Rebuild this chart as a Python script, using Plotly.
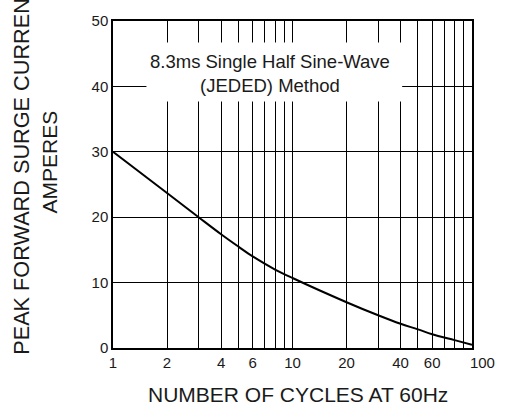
import plotly.graph_objects as go

# Data
cycles = [1, 2, 3, 4, 5, 6, 8, 10, 20, 30, 40, 50, 60, 80, 100]
surge_current = [30.0, 23.7, 20.0, 17.4, 15.5, 14.0, 12.0, 10.7, 7.0, 5.0, 3.7, 2.85, 2.1, 1.2, 0.5]

x_tick_vals = [1, 2, 3, 4, 5, 6, 7, 8, 9, 10, 20, 30, 40, 50, 60, 70, 80, 90, 100]
x_tick_text = ["1", "2", "", "4", "", "6", "", "", "", "10", "20", "", "40", "", "60", "", "", "",
               "\u00a0\u00a0\u00a0\u00a0\u00a0100"]
y_tick_vals = [0, 10, 20, 30, 40, 50]

FONT = "Liberation Sans, Arial, sans-serif"

fig = go.Figure()
fig.add_trace(go.Scatter(
    x=cycles, y=surge_current, mode="lines",
    line=dict(color="black", width=2, shape="spline", smoothing=1.0),
    showlegend=False, hoverinfo="skip", cliponaxis=False,
))

fig.update_layout(
    width=507, height=410,
    margin=dict(l=113, r=29, t=15, b=62),
    paper_bgcolor="white", plot_bgcolor="white",
    font=dict(family=FONT, color="#1a1a1a", size=15),
    xaxis=dict(
        type="log", range=[0, 2],
        tickvals=x_tick_vals, ticktext=x_tick_text,
        showgrid=True, gridcolor="black", gridwidth=1,
        showline=True, linecolor="black", linewidth=1.5, mirror=True,
        ticks="", ticklen=0, tickfont=dict(size=15, family=FONT),
        zeroline=False,
    ),
    yaxis=dict(
        range=[0, 50], tickvals=y_tick_vals,
        showgrid=True, gridcolor="black", gridwidth=1,
        showline=True, linecolor="black", linewidth=1.5, mirror=True,
        ticks="", ticklen=0, tickfont=dict(size=15, family=FONT),
        zeroline=False,
    ),
    shapes=[dict(
        type="rect", xref="paper", yref="paper",
        x0=(147 - 113) / 365, x1=(407 - 113) / 365,
        y0=(348 - 97) / 333, y1=(348 - 37) / 333,
        fillcolor="white", line=dict(width=0), layer="above",
    )],
    annotations=[
        dict(text="8.3ms Single Half Sine-Wave<br>(JEDED) Method",
             xref="paper", yref="paper",
             x=(273 - 113) / 365, y=(348 - 68) / 333,
             xanchor="center", yanchor="middle", showarrow=False,
             font=dict(size=18.5, family=FONT, color="#1a1a1a")),
        dict(text="PEAK FORWARD SURGE CURRENT",
             xref="paper", yref="paper",
             x=(20 - 113) / 365, y=(348 - 167) / 333,
             xanchor="center", yanchor="middle", textangle=-90, showarrow=False,
             font=dict(size=21.7, family=FONT, color="#1a1a1a")),
        dict(text="AMPERES",
             xref="paper", yref="paper",
             x=(48 - 113) / 365, y=(348 - 159) / 333,
             xanchor="center", yanchor="middle", textangle=-90, showarrow=False,
             font=dict(size=21, family=FONT, color="#1a1a1a")),
        dict(text="NUMBER OF CYCLES AT 60Hz",
             xref="paper", yref="paper",
             x=(301 - 113) / 365, y=(348 - 395) / 333,
             xanchor="center", yanchor="middle", showarrow=False,
             font=dict(size=21, family=FONT, color="#1a1a1a")),
    ],
)

fig.write_html(
    "out.html",
    config={"displayModeBar": False},
    post_script="document.body.style.margin='0';document.body.style.overflow='hidden';",
)
